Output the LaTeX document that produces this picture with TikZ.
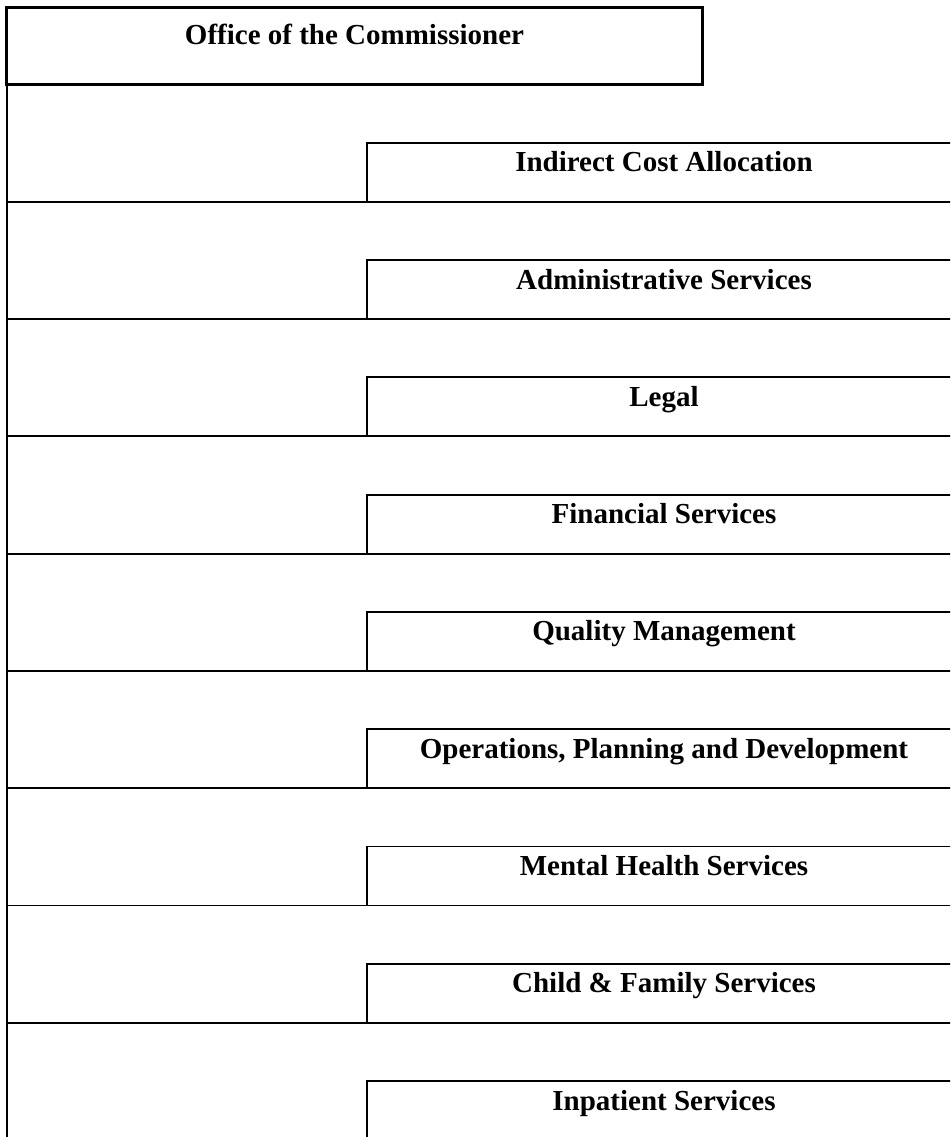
\documentclass[tikz,border=0pt]{standalone}
\usepackage{fontspec}
\setmainfont{Liberation Serif}
\usetikzlibrary{positioning}

\begin{document}
\begin{tikzpicture}[
          x=0.5pt, y=-0.5pt,
          rowline/.style={line width=0.9pt},
          headbox/.style={line width=1.35pt},
          lbl/.style={font=\fontsize{14.5}{17}\selectfont\bfseries, anchor=base, inner sep=0pt}
      ]
        \useasboundingbox (0,0) rectangle (950,1137);
        \clip (0,0) rectangle (950,1137);
        % head of the chart
        \draw[headbox] (6.7,7.3) rectangle (702.7,84.3);
        \node[lbl] (office) at (354.5,44) {Office of the Commissioner};
        \draw[rowline] (6.7,84.3) -- (6.7,1137);
        % one row per unit
        \foreach \unit [count=\i from 0] in {Indirect Cost Allocation, Administrative Services, Legal, Financial Services, Quality Management, {Operations, Planning and Development}, Mental Health Services, Child \& Family Services, Inpatient Services}{
          \pgfmathsetmacro\top{142.7+117.3*\i}
          \draw[rowline] (961,\top) -| (366.7,\top+59);
          \draw[rowline] (6.7,\top+59) -- (961,\top+59);
          \node[lbl] (unit\i) at (664,\top+29) {\unit};
        }
      \end{tikzpicture}
\end{document}
